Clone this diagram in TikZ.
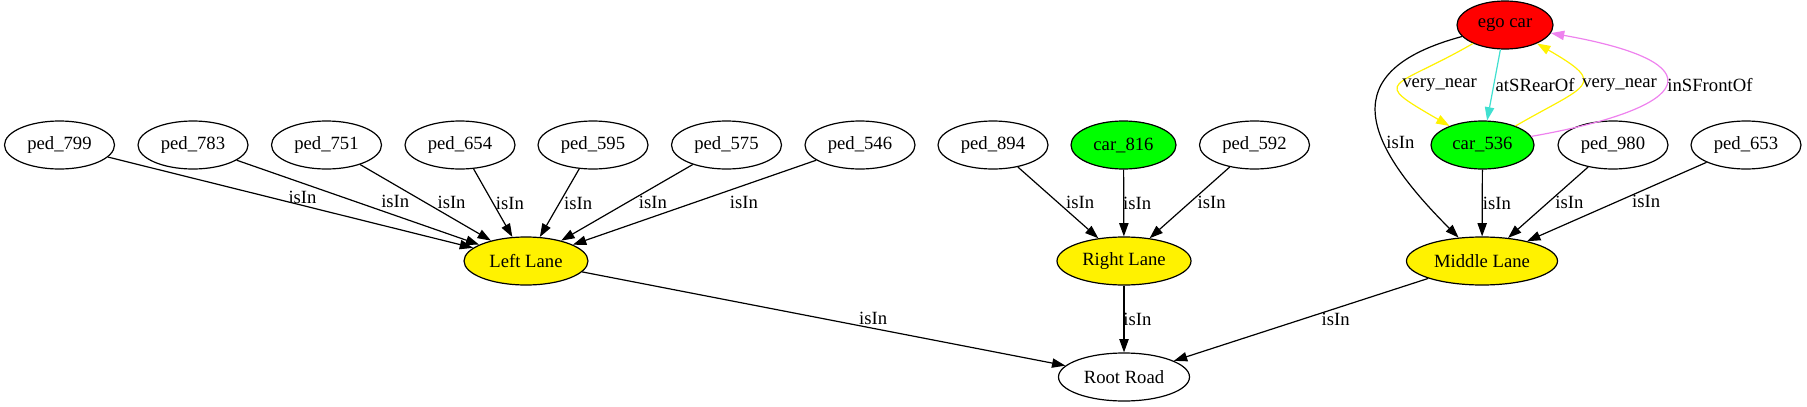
\documentclass[tikz,border=0pt]{standalone}
\usepackage{fontspec}
\setmainfont{Liberation Serif}
\usepackage{tikz}
\usetikzlibrary{shapes.geometric,arrows.meta}
\definecolor{turq}{HTML}{40E0D0}
\definecolor{viol}{HTML}{EE82EE}

\begin{document}
\begin{tikzpicture}[x=0.75pt, y=0.75pt, font=\fontsize{14}{16.8}\selectfont]
   \useasboundingbox (0,0) rectangle (1807,-407);
   \begin{scope}[every node/.style={ellipse,draw,line width=0.9pt,inner sep=0pt,minimum width=82.5pt,minimum height=36pt}]
    \node (ego) [fill=red, minimum width=72pt] at (1505,-25) {ego car};
    \node (ped799) at (59.5,-145) {ped\_799};
    \node (ped783) at (193,-145) {ped\_783};
    \node (ped751) at (326.5,-145) {ped\_751};
    \node (ped654) at (460,-145) {ped\_654};
    \node (ped595) at (593,-145) {ped\_595};
    \node (ped575) at (726.5,-145) {ped\_575};
    \node (ped546) at (860,-145) {ped\_546};
    \node (ped894) at (993,-145) {ped\_894};
    \node (car816) [fill=green, minimum width=78.75pt] at (1123.5,-145) {car\_816};
    \node (ped592) at (1254.5,-145) {ped\_592};
    \node (car536) [fill=green, minimum width=77.25pt] at (1482.5,-145) {car\_536};
    \node (ped980) at (1613,-145) {ped\_980};
    \node (ped653) at (1746,-145) {ped\_653};
    \node (left) [fill=yellow, minimum width=93pt] at (526,-261) {Left Lane};
    \node (right) [fill=yellow, minimum width=100.5pt] at (1124,-261) {Right Lane};
    \node (middle) [fill=yellow, minimum width=113.25pt] at (1482,-261) {Middle Lane};
    \node (road) [minimum width=98.25pt] at (1124,-377) {Root Road};
   \end{scope}
   \begin{scope}[every edge/.style={draw,line width=0.9pt,-{Triangle[length=10pt,width=7pt]}},
                 every node/.style={text=black,inner sep=1pt}]
    \draw  (ped799) edge node[xshift=9pt, yshift=4pt] {isIn} (left);
    \draw  (ped783) edge node[xshift=28pt, yshift=1pt] {isIn} (left);
    \draw  (ped751) edge node[xshift=19.5pt] {isIn} (left);
    \draw  (ped654) edge node[xshift=12.75pt] {isIn} (left);
    \draw  (ped595) edge node[xshift=14pt] {isIn} (left);
    \draw  (ped575) edge node[xshift=19.5pt] {isIn} (left);
    \draw  (ped546) edge node[xshift=37pt] {isIn} (left);
    \draw  (ped894) edge node[xshift=16.5pt] {isIn} (right);
    \draw  (car816) edge node[xshift=10pt] {isIn} (right);
    \draw  (ped592) edge node[xshift=16.5pt] {isIn} (right);
    \draw  (car536) edge node[xshift=11pt] {isIn} (middle);
    \draw  (ped980) edge node[xshift=16pt] {isIn} (middle);
    \draw  (ped653) edge node[xshift=22pt] {isIn} (middle);
    \draw  (left) edge node[xshift=37pt] {isIn} (road);
    \draw  (right) edge node[xshift=10pt] {isIn} (road);
    \draw  (middle) edge node[xshift=26pt] {isIn} (road);
    \draw  (ego) edge [yellow, out=210, in=150, looseness=2.8] node[anchor=west] {very\_near} (car536);
    \draw  (ego) edge [turq] node[anchor=west] {atSRearOf} (car536);
    \draw  (car536) edge [yellow, out=30, in=-30, looseness=2.5] node[anchor=west] {very\_near} (ego);
    \draw  (car536) edge [viol, out=10, in=-10, looseness=4.1] node[anchor=west] {inSFrontOf} (ego);
    \draw  (ego) edge [out=195, in=135, looseness=1.7] node[pos=.63, anchor=west] {isIn} (middle);
   \end{scope}
\end{tikzpicture}
\end{document}
